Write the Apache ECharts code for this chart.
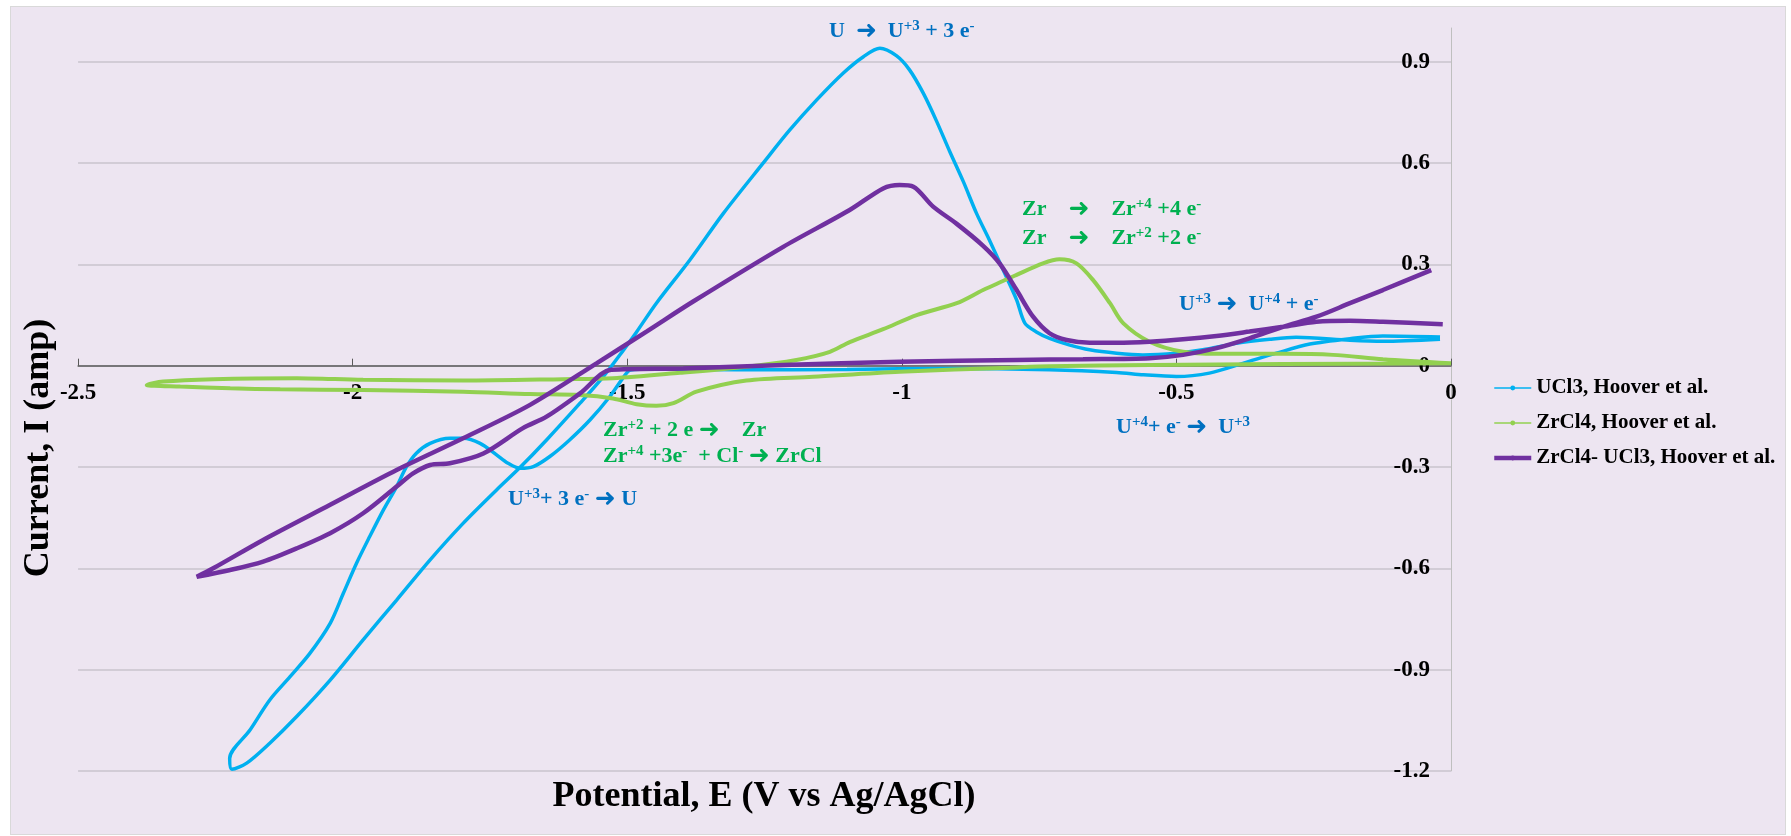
<!DOCTYPE html>
<html>
<head>
<meta charset="utf-8">
<script src="https://cdn.jsdelivr.net/npm/echarts@6/dist/echarts.min.js"></script>
<style>
html, body { margin: 0; padding: 0; background: #fff; }
#frame { position: absolute; left: 10px; top: 6px; width: 1774px; height: 827px; background: #EDE5F1; border: 1px solid #D9D9D9; }
#chart { position: absolute; left: 0; top: 0; width: 1791px; height: 836px; }
</style>
</head>
<body>
<div id="frame"></div>
<div id="chart"></div>
<script>
// cyclic voltammograms, [potential V, current A], in scan order
const ucl3 = [
  [-0.02, 0.085], [-0.124, 0.088], [-0.184, 0.08], [-0.257, 0.064], [-0.318, 0.037], [-0.379, 0.007],
  [-0.44, -0.022], [-0.5, -0.032], [-0.56, -0.027], [-0.609, -0.02], [-0.731, -0.012], [-0.913, -0.008],
  [-1.1, -0.011], [-1.3, -0.012], [-1.45, -0.01], [-1.494, -0.013], [-1.505, -0.03], [-1.532, -0.092],
  [-1.568, -0.161], [-1.605, -0.22], [-1.641, -0.269], [-1.671, -0.299], [-1.695, -0.304], [-1.718, -0.288],
  [-1.738, -0.264], [-1.768, -0.23], [-1.799, -0.215], [-1.823, -0.215], [-1.859, -0.23], [-1.884, -0.259],
  [-1.902, -0.299], [-1.92, -0.358], [-1.944, -0.427], [-1.969, -0.506], [-1.993, -0.585], [-2.017, -0.674],
  [-2.041, -0.763], [-2.078, -0.852], [-2.114, -0.921], [-2.151, -0.99], [-2.187, -1.079], [-2.224, -1.163],
  [-2.22, -1.195], [-2.193, -1.177], [-2.151, -1.118], [-2.102, -1.039], [-2.041, -0.931], [-1.981, -0.812],
  [-1.92, -0.694], [-1.859, -0.575], [-1.799, -0.467], [-1.738, -0.368], [-1.695, -0.301], [-1.647, -0.22],
  [-1.586, -0.111], [-1.544, -0.033], [-1.507, 0.046], [-1.483, 0.1], [-1.447, 0.185], [-1.386, 0.313],
  [-1.325, 0.451], [-1.253, 0.599], [-1.204, 0.698], [-1.155, 0.787], [-1.107, 0.866], [-1.07, 0.915],
  [-1.04, 0.94], [-1.01, 0.918], [-0.986, 0.876], [-0.961, 0.807], [-0.937, 0.725], [-0.913, 0.635],
  [-0.888, 0.545], [-0.864, 0.451], [-0.84, 0.37], [-0.81, 0.264], [-0.791, 0.195], [-0.776, 0.126],
  [-0.755, 0.1], [-0.731, 0.081], [-0.694, 0.061], [-0.658, 0.047], [-0.609, 0.037], [-0.561, 0.032],
  [-0.5, 0.037], [-0.452, 0.047], [-0.391, 0.066], [-0.33, 0.078], [-0.282, 0.084], [-0.184, 0.075],
  [-0.124, 0.072], [-0.02, 0.078]
]

const zrcl4 = [
  [0.0, 0.007], [-0.306, 0.005], [-0.549, 0.002], [-0.731, -0.002], [-0.803, -0.006], [-1.004, -0.018],
  [-1.162, -0.033], [-1.283, -0.044], [-1.374, -0.077], [-1.416, -0.111], [-1.447, -0.119], [-1.483, -0.114],
  [-1.526, -0.097], [-1.586, -0.087], [-1.677, -0.084], [-1.799, -0.077], [-1.981, -0.072], [-2.132, -0.07],
  [-2.223, -0.067], [-2.314, -0.062], [-2.375, -0.057], [-2.345, -0.047], [-2.254, -0.04], [-2.102, -0.037],
  [-1.981, -0.042], [-1.799, -0.044], [-1.617, -0.04], [-1.526, -0.037], [-1.404, -0.021], [-1.283, -0.003],
  [-1.192, 0.017], [-1.131, 0.041], [-1.095, 0.07], [-1.034, 0.108], [-0.973, 0.15], [-0.9, 0.185],
  [-0.852, 0.224], [-0.791, 0.269], [-0.743, 0.303], [-0.713, 0.315], [-0.682, 0.303], [-0.652, 0.254],
  [-0.621, 0.185], [-0.597, 0.126], [-0.549, 0.071], [-0.488, 0.041], [-0.427, 0.035], [-0.306, 0.035],
  [-0.215, 0.032], [-0.124, 0.019], [0.0, 0.007]
]

const zrcl4Ucl3 = [
  [-0.036, 0.283], [-0.124, 0.224], [-0.184, 0.185], [-0.245, 0.145], [-0.306, 0.115], [-0.367, 0.081],
  [-0.427, 0.052], [-0.488, 0.032], [-0.549, 0.022], [-0.67, 0.019], [-0.791, 0.017], [-1.004, 0.012],
  [-1.216, 0.002], [-1.398, -0.008], [-1.529, -0.012], [-1.586, -0.082], [-1.647, -0.151], [-1.69, -0.185],
  [-1.762, -0.26], [-1.823, -0.289], [-1.859, -0.294], [-1.89, -0.319], [-1.92, -0.358], [-1.981, -0.437],
  [-2.041, -0.496], [-2.102, -0.541], [-2.163, -0.58], [-2.223, -0.605], [-2.284, -0.625], [-2.254, -0.6],
  [-2.163, -0.516], [-2.041, -0.412], [-1.92, -0.309], [-1.799, -0.215], [-1.677, -0.116], [-1.556, 0.007],
  [-1.465, 0.101], [-1.38, 0.19], [-1.216, 0.352], [-1.095, 0.461], [-1.034, 0.525], [-1.004, 0.535],
  [-0.979, 0.53], [-0.943, 0.471], [-0.9, 0.42], [-0.852, 0.355], [-0.822, 0.303], [-0.791, 0.224],
  [-0.761, 0.145], [-0.731, 0.096], [-0.70, 0.076], [-0.658, 0.068], [-0.609, 0.068], [-0.549, 0.071],
  [-0.488, 0.078], [-0.427, 0.088], [-0.367, 0.101], [-0.306, 0.115], [-0.245, 0.13], [-0.184, 0.133],
  [-0.124, 0.13], [-0.015, 0.123]
]

const seriesNames = ['UCl3, Hoover et al.', 'ZrCl4, Hoover et al.', 'ZrCl4- UCl3, Hoover et al.']
const xTicks = { min: -2.5, max: 0, step: 0.5 }
const yTicks = { min: -1.2, max: 1.0, step: 0.3 }

const SERIF = "'Liberation Serif', 'Times New Roman', serif"
const BLUE = '#00B0F0', GREEN = '#92D050', PURPLE = '#7030A0'
const NOTE_BLUE = '#0070C0', NOTE_GREEN = '#00B050'

// grid box in pixels; the x axis is drawn through I = 0
const GRID = { left: 78.1, right: 340, top: 28, bottom: 65.1 }
const plotH = 836 - GRID.top - GRID.bottom
const zeroOffset = plotH * (0 - yTicks.min) / (yTicks.max - yTicks.min)

// reaction labels placed next to the peaks
function note(x, y, text, color) {
  const rich = {
    n: { fill: color, fontFamily: SERIF, fontWeight: 'bold', fontSize: 22, lineHeight: 25 },
    s: { fill: color, fontFamily: SERIF, fontWeight: 'bold', fontSize: 15, lineHeight: 15, verticalAlign: 'top' },
    a: { fill: color, fontFamily: 'DejaVu Sans', fontWeight: 'bold', fontSize: 25, lineHeight: 25 }
  }
  return { type: 'text', x, y, silent: true, style: { text, rich, fill: color, align: 'left', verticalAlign: 'middle' } }
}
const ARROW = '{a|➜}'

const chart = echarts.init(document.getElementById('chart'))

const line = (name, data, color, width) => ({
  name, type: 'line', data,
  symbol: 'circle', showSymbol: false, smooth: 0.3,
  lineStyle: { color, width }, itemStyle: { color },
  silent: true, animation: false
})

chart.setOption({
  animation: false,
  grid: GRID,
  xAxis: {
    type: 'value', min: xTicks.min, max: xTicks.max, interval: xTicks.step,
    position: 'bottom', offset: -zeroOffset,
    axisLine: { onZero: false, lineStyle: { color: '#595959', width: 1.5 } },
    axisTick: { inside: true, length: 7, lineStyle: { color: '#595959' } },
    axisLabel: { margin: 16, fontFamily: SERIF, fontWeight: 'bold', fontSize: 23, color: '#000' },
    splitLine: { show: false }
  },
  yAxis: {
    type: 'value', position: 'right', min: yTicks.min, max: yTicks.max, interval: yTicks.step,
    axisLine: { show: true, onZero: false, lineStyle: { color: '#BFBFBF', width: 1 } },
    axisTick: { show: false },
    axisLabel: {
      inside: true, margin: 21, showMaxLabel: false,
      fontFamily: SERIF, fontWeight: 'bold', fontSize: 23, color: '#000',
      formatter: v => (v > 0.95 ? '' : String(Math.round(v * 10) / 10))
    },
    splitLine: { show: true, showMaxLine: false, lineStyle: { color: '#C8C3CC', width: 1.5 } }
  },
  legend: {
    orient: 'vertical', left: 1487, top: 372,
    itemWidth: 37, itemHeight: 6, itemGap: 13,
    textStyle: { fontFamily: SERIF, fontWeight: 'bold', fontSize: 21, lineHeight: 22, color: '#000' },
    data: [
      { name: seriesNames[0], lineStyle: { width: 1.5 } },
      { name: seriesNames[1], lineStyle: { width: 1.5 } },
      { name: seriesNames[2], lineStyle: { width: 4.5 } }
    ],
    selectedMode: false
  },
  series: [
    line(seriesNames[0], ucl3, BLUE, 3.5),
    line(seriesNames[1], zrcl4, GREEN, 4),
    line(seriesNames[2], zrcl4Ucl3, PURPLE, 4.5)
  ],
  graphic: [
    { type: 'text', x: 764, y: 797, silent: true,
      style: { text: 'Potential, E (V vs Ag/AgCl)', fontFamily: SERIF, fontWeight: 'bold', fontSize: 36, fill: '#000', align: 'center', verticalAlign: 'middle' } },
    { type: 'text', x: 39, y: 448, rotation: Math.PI / 2, silent: true,
      style: { text: 'Current, I (amp)', fontFamily: SERIF, fontWeight: 'bold', fontSize: 36, fill: '#000', align: 'center', verticalAlign: 'middle' } },
    note(829, 31, '{n|U  }' + ARROW + '{n|  U}{s|+3}{n| + 3 e}{s|-}', NOTE_BLUE),
    note(1022, 209, '{n|Zr    }' + ARROW + '{n|    Zr}{s|+4}{n| +4 e}{s|-}', NOTE_GREEN),
    note(1022, 238, '{n|Zr    }' + ARROW + '{n|    Zr}{s|+2}{n| +2 e}{s|-}', NOTE_GREEN),
    note(1179, 304, '{n|U}{s|+3}{n| }' + ARROW + '{n|  U}{s|+4}{n| + e}{s|-}', NOTE_BLUE),
    note(1116, 427, '{n|U}{s|+4}{n|+ e}{s|-}{n| }' + ARROW + '{n|  U}{s|+3}', NOTE_BLUE),
    note(603, 430, '{n|Zr}{s|+2}{n| + 2 e }' + ARROW + '{n|    Zr}', NOTE_GREEN),
    note(603, 456, '{n|Zr}{s|+4}{n| +3e}{s|-}{n|  + Cl}{s|-}{n| }' + ARROW + '{n| ZrCl}', NOTE_GREEN),
    note(508, 499, '{n|U}{s|+3}{n|+ 3 e}{s|-}{n| }' + ARROW + '{n| U}', NOTE_BLUE)
  ]
})
</script>
</body>
</html>
